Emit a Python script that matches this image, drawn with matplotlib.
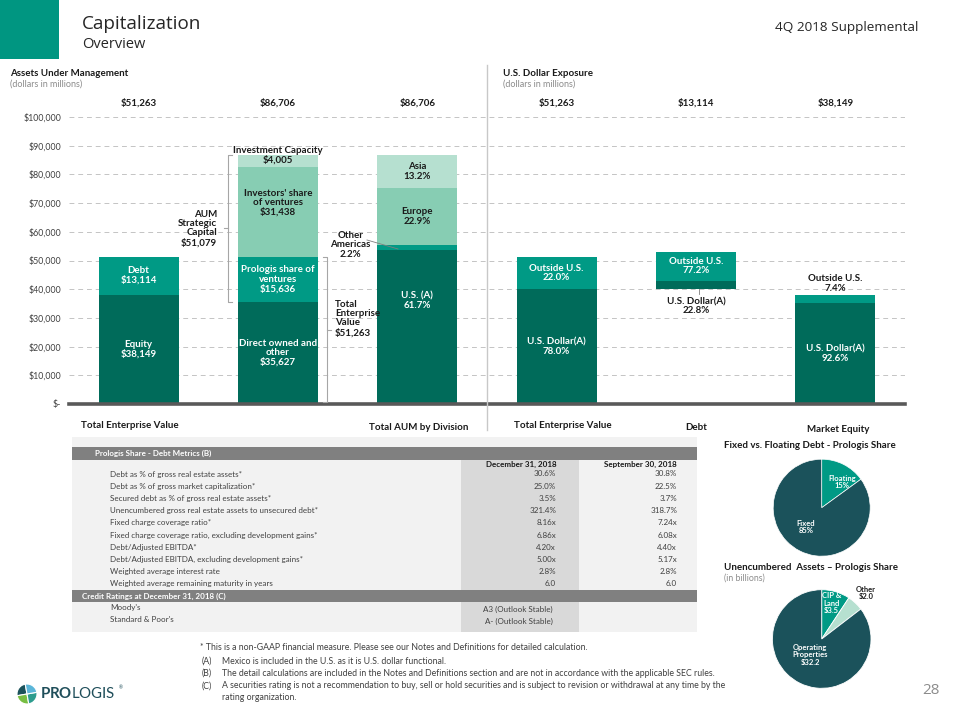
import matplotlib
matplotlib.use('Agg')
import matplotlib.pyplot as plt
from matplotlib.lines import Line2D
from matplotlib.patches import Rectangle

plt.rcParams['font.family'] = ['Lato', 'DejaVu Sans']
plt.rcParams['mathtext.fontset'] = 'custom'
plt.rcParams['mathtext.rm'] = 'Lato'
plt.rcParams['mathtext.bf'] = 'Lato:bold'

# ---------------- data ----------------
y_ticks = [0, 10000, 20000, 30000, 40000, 50000, 60000, 70000, 80000, 90000, 100000]
y_tick_labels = ['$-', '$10,000', '$20,000', '$30,000', '$40,000', '$50,000',
                 '$60,000', '$70,000', '$80,000', '$90,000', '$100,000']

tev_part_names = ['Equity', 'Debt']
tev_parts = [38149, 13114]

aum_part_names = ['Direct owned and\nother', 'Prologis share of\nventures',
                  "Investors' share\nof ventures", 'Investment Capacity']
aum_parts = [35627, 15636, 31438, 4005]
aum_total = 86706
strategic_capital = 51079
tev_total = 51263

division_names = ['U.S. (A)', 'Other\nAmericas', 'Europe', 'Asia']
division_pct = [61.7, 2.2, 22.9, 13.2]

exposure_names = ['Total Enterprise Value', 'Debt', 'Market Equity']
exposure_totals = [51263, 13114, 38149]
exposure_us_pct = [78.0, 22.8, 92.6]
exposure_out_pct = [22.0, 77.2, 7.4]

top_totals = ['$51,263', '$86,706', '$86,706', '$51,263', '$13,114', '$38,149']
bottom_labels = ['Total Enterprise Value', 'Total AUM by Division',
                 'Total Enterprise Value', 'Debt', 'Market Equity']

metric_labels = ['Debt as % of gross real estate assets*',
                 'Debt as % of gross market capitalization*',
                 'Secured debt as % of gross real estate assets*',
                 'Unencumbered gross real estate assets to unsecured debt*',
                 'Fixed charge coverage ratio*',
                 'Fixed charge coverage ratio, excluding development gains*',
                 'Debt/Adjusted EBITDA*',
                 'Debt/Adjusted EBITDA, excluding development gains*',
                 'Weighted average interest rate',
                 'Weighted average remaining maturity in years']
dec_values = ['30.6%', '25.0%', '3.5%', '321.4%', '8.16x', '6.86x', '4.20x', '5.00x', '2.8%', '6.0']
sep_values = ['30.8%', '22.5%', '3.7%', '318.7%', '7.24x', '6.08x', '4.40x', '5.17x', '2.8%', '6.0']
rating_agencies = ["Moody's", 'Standard & Poor\'s']
ratings = ['A3 (Outlook Stable)', 'A- (Outlook Stable)']

debt_type_names = ['Floating', 'Fixed']
debt_type_pct = [15, 85]
unenc_names = ['CIP &\nLand', 'Other', 'Operating\nProperties']
unenc_values = [3.5, 2.0, 32.2]

footnotes = [('', '* This is a non-GAAP financial measure. Please see our Notes and Definitions for detailed calculation.'),
             ('(A)', 'Mexico is included in the U.S. as it is U.S. dollar functional.'),
             ('(B)', 'The detail calculations are included in the Notes and Definitions section and are not in accordance with the applicable SEC rules.'),
             ('(C)', 'A securities rating is not a recommendation to buy, sell or hold securities and is subject to revision or withdrawal at any time by the'),
             ('', 'rating organization.')]

# ---------------- styling ----------------
DARK = '#006b5a'
TEAL = '#009a85'
MED = '#87cdb3'
LIGHT = '#b6e0d0'
PIE_DARK = '#1b525b'
HEAD_TEAL = '#009681'
TXT = '#1a1a1a'
GRAY_TXT = '#8c8c8c'

W, H = 960, 720
fig = plt.figure(figsize=(9.6, 7.2), dpi=100)
fig.patch.set_facecolor('white')


def fx(x):
    return x / W


def fy(y):
    return 1 - y / H


def ftext(x, y, s, **kw):
    return fig.text(fx(x), fy(y), s, **kw)


def fline(xs, ys, **kw):
    fig.add_artist(Line2D([fx(v) for v in xs], [fy(v) for v in ys],
                          transform=fig.transFigure, **kw))


def frect(x0, y0, x1, y1, color, z=0):
    fig.add_artist(Rectangle((fx(x0), fy(y1)), fx(x1) - fx(x0), fy(y0) - fy(y1),
                             transform=fig.transFigure, facecolor=color,
                             edgecolor='none', zorder=z))


# ---------------- header ----------------
frect(0, 0, 59, 59, HEAD_TEAL)
ftext(82, 24, 'Capitalization', fontsize=13.6, family=['Open Sans', 'DejaVu Sans'],
      color='#262626', va='center', ha='left')
ftext(82, 45, 'Overview', fontsize=10.5, family=['Open Sans', 'DejaVu Sans'],
      color='#262626', va='center', ha='left')
ftext(918, 28, '4Q 2018 Supplemental', fontsize=9.7, family=['Open Sans', 'DejaVu Sans'],
      color='#262626', va='center', ha='right')

ftext(10, 73, 'Assets Under Management', fontsize=7, fontweight='bold', color=TXT, va='center')
ftext(10, 84, '(dollars in millions)', fontsize=6.5, color=GRAY_TXT, va='center')
ftext(503, 73, 'U.S. Dollar Exposure', fontsize=7, fontweight='bold', color=TXT, va='center')
ftext(503, 84, '(dollars in millions)', fontsize=6.5, color=GRAY_TXT, va='center')

# ---------------- main bar axes ----------------
ax = fig.add_axes([fx(69), fy(404), fx(905) - fx(69), fy(117) - fy(404)])
ax.set_xlim(-0.5, 5.5)
ax.set_ylim(0, 100000)
ax.patch.set_alpha(0)
for s in ax.spines.values():
    s.set_visible(False)
ax.set_xticks([])
ax.set_yticks(y_ticks)
ax.set_yticklabels(y_tick_labels, fontsize=6.3, color='#404040')
ax.tick_params(axis='y', length=0, pad=5.5)
for v in y_ticks[1:]:
    ax.axhline(v, color='#c4c4c4', lw=0.7, ls=(0, (5, 4)), zorder=0)
ax.axhline(0, color='#595959', lw=2.6, zorder=4, clip_on=False)

BW = 0.574
LBL = dict(ha='center', va='center', fontsize=7, fontweight='bold', linespacing=1.05, zorder=5)

# Bar 0 : total enterprise value
bottom = 0
for name, val, col in zip(tev_part_names, tev_parts, [DARK, TEAL]):
    ax.bar(0, val, BW, bottom=bottom, color=col, zorder=2)
    ax.text(0, bottom + val / 2, f'{name}\n${val:,}', color='white', **LBL)
    bottom += val

# Bar 1 : AUM
bottom = 0
aum_cols = [DARK, TEAL, MED, LIGHT]
for i, (name, val, col) in enumerate(zip(aum_part_names, aum_parts, aum_cols)):
    ax.bar(1, val, BW, bottom=bottom, color=col, zorder=2)
    if i == 3:
        ax.text(1, bottom + val, f'{name}\n${val:,}', color=TXT, **LBL)
    elif i == 2:
        ax.text(1, bottom + val * 0.6, f'{name}\n${val:,}', color=TXT, **LBL)
    else:
        ax.text(1, bottom + val / 2, f'{name}\n${val:,}', color='white', **LBL)
    bottom += val

# Bar 2 : AUM by division
bottom = 0
div_vals = [aum_total * p / 100 for p in division_pct]
for i, (name, val, pct, col) in enumerate(zip(division_names, div_vals, division_pct, aum_cols)):
    ax.bar(2, val, BW, bottom=bottom, color=col, zorder=2)
    if i == 0:
        ax.text(2, bottom + val * 0.675, f'{name}\n{pct}%', color='white', **LBL)
    elif i == 1:
        ax.annotate(f'{name}\n{pct}%', xy=(2 - BW / 2 + 20 / 139.33, bottom + val / 2),
                    xytext=(-47, 3), textcoords='offset pixels',
                    color=TXT, ha='center', va='center', fontsize=7, fontweight='bold',
                    linespacing=1.05, zorder=5)
    else:
        ax.text(2, bottom + val / 2, f'{name}\n{pct}%', color=TXT, **LBL)
    bottom += val

# Bars 3-5 : U.S. dollar exposure
debt_base = exposure_totals[0] * exposure_us_pct[0] / 100
bases = [0, debt_base, 0]
for k in range(3):
    xpos = 3 + k
    tot = exposure_totals[k]
    us = tot * exposure_us_pct[k] / 100
    out = tot * exposure_out_pct[k] / 100
    b = bases[k]
    ax.bar(xpos, us, BW, bottom=b, color=DARK, zorder=2)
    ax.bar(xpos, out, BW, bottom=b + us, color=TEAL, zorder=2)
    us_lbl = f'U.S. Dollar(A)\n{exposure_us_pct[k]}%'
    out_lbl = f'Outside U.S.\n{exposure_out_pct[k]}%'
    if k == 0:
        ax.text(xpos, b + us / 2, us_lbl, color='white', **LBL)
        ax.text(xpos, b + us + out / 2, out_lbl, color='white', **LBL)
    elif k == 1:
        ax.text(xpos, b + us + out / 2, out_lbl, color='white', **LBL)
        ax.annotate(us_lbl, xy=(xpos, b), xytext=(0, -17), textcoords='offset pixels',
                    color=TXT, ha='center', va='center', fontsize=7, fontweight='bold',
                    linespacing=1.05, zorder=5)
        ax.plot([xpos + 3 / 139.33] * 2, [b, b - 1700], color='#7f7f7f', lw=0.6,
                zorder=5, clip_on=False)
    else:
        ax.text(xpos, b + us / 2, us_lbl, color='white', **LBL)
        ax.annotate(out_lbl, xy=(xpos, b + us + out), xytext=(0, 11),
                    textcoords='offset pixels', color=TXT, ha='center', va='center',
                    fontsize=7, fontweight='bold', linespacing=1.05, zorder=5)

# Totals on top
for i, t in enumerate(top_totals):
    ax.text(i, 104900, t, ha='center', va='center', fontsize=7, fontweight='bold',
            color=TXT, clip_on=False)

# Brackets
def px2x(px):
    return (px - 69) / 139.33 - 0.5


BR = dict(color='#a6a6a6', lw=0.8, clip_on=False, zorder=5)
# left bracket: AUM strategic capital
bx = px2x(228)
top_v = aum_total
bot_v = aum_parts[0]
h = 4 / 139.33
ax.plot([bx + h, bx, bx, bx + h], [top_v, top_v, bot_v, bot_v], **BR)
ax.plot([bx, bx - h], [(top_v + bot_v) / 2] * 2, **BR)
ax.text(px2x(217), (top_v + bot_v) / 2, f'AUM\nStrategic\nCapital\n${strategic_capital:,}',
        ha='right', va='center', fontsize=7, fontweight='bold', color=TXT,
        linespacing=1.05, clip_on=False)
# right bracket: total enterprise value
bx = px2x(327)
top_v = tev_total
bot_v = 0
ax.plot([bx - h, bx, bx, bx - h], [top_v, top_v, bot_v + 700, bot_v + 700], **BR)
ax.plot([bx, bx + h], [(top_v + bot_v) / 2] * 2, **BR)
ax.text(px2x(335), 29800, f'Total\nEnterprise\nValue\n${tev_total:,}',
        ha='left', va='center', fontsize=7, fontweight='bold', color=TXT,
        linespacing=1.05, clip_on=False)

# leader for other americas
fline([367, 398], [240, 249], color='#7f7f7f', lw=0.6)

# divider
fline([487, 487], [65, 430], color='#c8c8c8', lw=1)

# bottom category labels
bottom_pos = [(130, 425), (418.5, 427), (563, 425.5), (696, 428), (838, 429.5)]
for lab, (x, y) in zip(bottom_labels, bottom_pos):
    ftext(x, y, lab, ha='center', va='center', fontsize=7, fontweight='bold', color=TXT)

# ---------------- table ----------------
frect(72, 437, 697, 632, '#f2f2f2')
frect(461, 460, 579, 632, '#d9d9d9', z=1)
frect(72, 447, 697, 460, '#808080', z=2)
frect(72, 590, 697, 602, '#808080', z=2)
TB = dict(fontsize=5.8, color='#404040', va='center', zorder=3)
ftext(95, 453.5, 'Prologis Share - Debt Metrics (B)', fontsize=5.8, fontweight='bold',
      color='white', va='center', zorder=3)
ftext(557, 464, 'December 31, 2018', fontsize=5.8, fontweight='bold', color=TXT,
      ha='right', va='center', zorder=3)
ftext(677, 464, 'September 30, 2018', fontsize=5.8, fontweight='bold', color=TXT,
      ha='right', va='center', zorder=3)
for i, (lab, dv, sv) in enumerate(zip(metric_labels, dec_values, sep_values)):
    y = 474 + i * 12.22
    ftext(110, y, lab, ha='left', **TB)
    ftext(556, y, dv, ha='right', **TB)
    ftext(677, y, sv, ha='right', **TB)
ftext(82, 596, 'Credit Ratings at December 31, 2018 (C)', fontsize=5.8, fontweight='bold',
      color='white', va='center', zorder=3)
for i, (ag, r) in enumerate(zip(rating_agencies, ratings)):
    y = 607.5 + i * 12.5
    ftext(110, y, ag, ha='left', **TB)
    ftext(553, y + 1.5, r, ha='right', **TB)

# footnotes
FN = dict(fontsize=6.3, color='#404040', va='center')
fn_y = [648, 661, 673, 686, 697]
for (tag, txt), y in zip(footnotes, fn_y):
    if tag:
        ftext(202, y, tag, **FN)
        ftext(222, y, txt, **FN)
    elif txt.startswith('*'):
        ftext(200, y, txt, **FN)
    else:
        ftext(222, y, txt, **FN)

# ---------------- pies ----------------
def pie_axes(cx, cy, r):
    a = fig.add_axes([fx(cx - r), fy(cy + r), 2 * r / W, 2 * r / H])
    a.set_xlim(-1, 1)
    a.set_ylim(-1, 1)
    a.axis('off')
    return a


ftext(724, 445.5, 'Fixed vs. Floating Debt - Prologis Share', fontsize=7, fontweight='bold',
      color=TXT, va='center')
ap1 = pie_axes(821.7, 507.7, 48.5)
ap1.pie(debt_type_pct, colors=[TEAL, PIE_DARK], startangle=90, counterclock=False,
        radius=1, wedgeprops=dict(edgecolor='white', linewidth=0.5))
ap1.set_xlim(-1, 1)
ap1.set_ylim(-1, 1)
PL = dict(ha='center', va='center', fontsize=5.5, fontweight='bold', linespacing=1.15)
ftext(842, 482, f'{debt_type_names[0]}\n{debt_type_pct[0]}%', color='white', **PL)
ftext(806, 527, f'{debt_type_names[1]}\n{debt_type_pct[1]}%', color='white', **PL)

ftext(724, 567, 'Unencumbered  Assets \u2013 Prologis Share', fontsize=7, fontweight='bold',
      color=TXT, va='center')
ftext(724, 578.5, '(in billions)', fontsize=6.3, color=GRAY_TXT, va='center')
ap2 = pie_axes(821.7, 639, 49.3)
ap2.pie(unenc_values, colors=[TEAL, LIGHT, PIE_DARK], startangle=90, counterclock=False,
        radius=1, wedgeprops=dict(edgecolor='white', linewidth=0.6))
ap2.set_xlim(-1, 1)
ap2.set_ylim(-1, 1)
ftext(831.5, 603, f'{unenc_names[0]}\n${unenc_values[0]}', color='white', **PL)
ftext(866, 593, f'{unenc_names[1]}\n${unenc_values[1]}', color=TXT, **PL)
ftext(810, 655, f'{unenc_names[2]}\n${unenc_values[2]}', color='white', **PL)

# ---------------- footer ----------------
ftext(940, 690, '28', fontsize=11, color=GRAY_TXT, ha='right', va='center',
      family=['Open Sans', 'DejaVu Sans'])

icon = fig.add_axes([fx(17), fy(704), 20 / W, 20 / H])
icon.pie([25, 25, 25, 25], colors=['#1b525b', '#78be43', '#2d9c8e', '#5bb6d9'],
         startangle=100, counterclock=True, radius=1,
         wedgeprops=dict(edgecolor='white', linewidth=0.8))
icon.set_xlim(-1, 1)
icon.set_ylim(-1, 1)
icon.axis('off')
ftext(40, 694, r'$\mathbf{PRO}\mathrm{LOGIS}$', fontsize=10.8, color='#1f4e5a', va='center')
ftext(119, 688, '\u00ae', fontsize=3.5, color='#1f4e5a', va='center')

fig.savefig('out.png', dpi=100)
